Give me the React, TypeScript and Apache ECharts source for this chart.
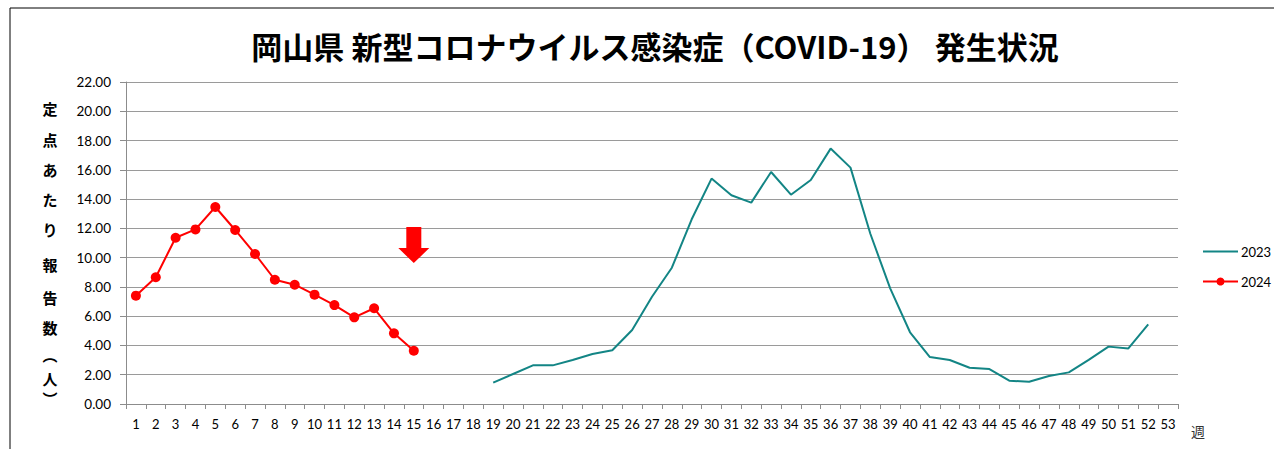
import React, { useEffect, useRef } from "react";
import * as echarts from "echarts";

const weeks: string[] = [
  "1","2","3","4","5","6","7","8","9","10","11","12","13","14","15","16","17","18","19","20",
  "21","22","23","24","25","26","27","28","29","30","31","32","33","34","35","36","37","38","39","40",
  "41","42","43","44","45","46","47","48","49","50","51","52","53",
];

// 2023: weeks 19..52
const start2023 = 19;
const values2023: number[] = [
  1.46, 2.05, 2.64, 2.64, 3.01, 3.42, 3.67, 5.06, 7.33, 9.31,
  12.62, 15.40, 14.26, 13.76, 15.85, 14.30, 15.30, 17.45, 16.15, 11.63,
  7.9, 4.90, 3.21, 3.01, 2.48, 2.39, 1.59, 1.52, 1.91, 2.16,
  3.01, 3.92, 3.80, 5.44,
];

// 2024: weeks 1..15
const start2024 = 1;
const values2024: number[] = [
  7.40, 8.66, 11.36, 11.93, 13.46, 11.89, 10.25, 8.49, 8.15, 7.47,
  6.76, 5.92, 6.54, 4.83, 3.64,
];

const yTicks = { min: 0, max: 22, interval: 2 };
const arrowWeek = "15";
const arrowValue = 10.86;

const yLabelChars = ["定", "点", "あ", "た", "り", "報", "告", "数", "︵", "人", "︶"];
const yLabelPos = [108, 139, 169, 199, 229, 264, 297, 327, 354, 378, 398];

function pad(values: number[], start: number): (number | null)[] {
  return weeks.map((w) => {
    const i = Number(w) - start;
    return i >= 0 && i < values.length ? values[i] : null;
  });
}

export default function App() {
  const ref = useRef<HTMLDivElement>(null);
  useEffect(() => {
    if (!ref.current) return;
    const chart = echarts.init(ref.current, null, { renderer: "svg" });
    const labelFont = "Lato, 'Noto Sans', sans-serif";
    chart.setOption({
      animation: false,
      backgroundColor: "#ffffff",
      title: {
        text: "岡山県 新型コロナウイルス感染症（COVID-19） 発生状況",
        left: 650,
        textAlign: "center",
        top: 25,
        textStyle: {
          fontFamily: "'Noto Sans CJK JP', sans-serif",
          fontWeight: "bold",
          fontSize: 31,
          color: "#000",
        },
      },
      grid: { left: 126, right: 96, top: 82, bottom: 45, containLabel: false },
      legend: {
        orient: "vertical",
        left: 1202,
        top: 245,
        padding: 0,
        itemWidth: 35,
        itemHeight: 10,
        itemGap: 17,
        textStyle: { fontFamily: labelFont, fontSize: 13, color: "#000", padding: [0, 0, 0, -2] },
        data: [
          { name: "2023", itemStyle: { opacity: 0 } },
          { name: "2024" },
        ],
      },
      xAxis: {
        type: "category",
        data: weeks,
        boundaryGap: true,
        axisLine: { lineStyle: { color: "#8c8c8c", width: 1 } },
        axisTick: { show: true, length: 5, lineStyle: { color: "#8c8c8c" }, alignWithLabel: false },
        axisLabel: { interval: 0, margin: 13, fontFamily: labelFont, fontSize: 13, color: "#000" },
        splitLine: { show: false },
      },
      yAxis: {
        type: "value",
        min: yTicks.min,
        max: yTicks.max,
        interval: yTicks.interval,
        axisLine: { show: true, lineStyle: { color: "#8c8c8c", width: 1 } },
        axisTick: { show: true, length: 6, lineStyle: { color: "#8c8c8c" } },
        axisLabel: {
          margin: 15,
          fontFamily: labelFont,
          fontSize: 13.5,
          color: "#000",
          formatter: (v: number) => v.toFixed(2),
        },
        splitLine: { show: true, lineStyle: { color: "#9a9a9a", width: 1.2 } },
      },
      series: [
        {
          name: "2023",
          type: "line",
          data: pad(values2023, start2023),
          showSymbol: false,
          symbol: "none",
          connectNulls: false,
          lineStyle: { color: "#138585", width: 2 },
          itemStyle: { color: "#138585" },
        },
        {
          name: "2024",
          type: "line",
          data: pad(values2024, start2024),
          symbol: "circle",
          symbolSize: 10,
          lineStyle: { color: "#ff0000", width: 2 },
          itemStyle: { color: "#ff0000" },
          markPoint: {
            symbol: "path://M8,0 L23,0 L23,21 L31,21 L15.5,36 L0,21 L8,21 Z",
            symbolSize: [31, 36],
            symbolKeepAspect: false,
            label: { show: false },
            itemStyle: { color: "#ff0000" },
            data: [{ coord: [arrowWeek, arrowValue] }],
          },
        },
      ],
      graphic: [
        {
          type: "rect",
          shape: { x: 10, y: 8, width: 1400, height: 600 },
          style: { fill: "none", stroke: "#000", lineWidth: 1 },
          silent: true,
        },
        {
          type: "text",
          left: 1191,
          top: 424,
          style: { text: "週", fontFamily: "'Noto Sans CJK JP', sans-serif", fontSize: 14, fill: "#333" },
        },
        ...yLabelChars.map((c, i) => ({
          type: "text",
          x: 50,
          y: yLabelPos[i],
          style: {
            text: c,
            fontFamily: "'Noto Sans CJK JP', sans-serif",
            fontWeight: "bold",
            fontSize: 15,
            fill: "#000",
            align: "center",
            verticalAlign: "middle",
          },
        })),
      ],
    });
    return () => chart.dispose();
  }, []);
  return <div ref={ref} style={{ width: 1274, height: 449, position: "absolute", left: 0, top: 0 }} />;
}
